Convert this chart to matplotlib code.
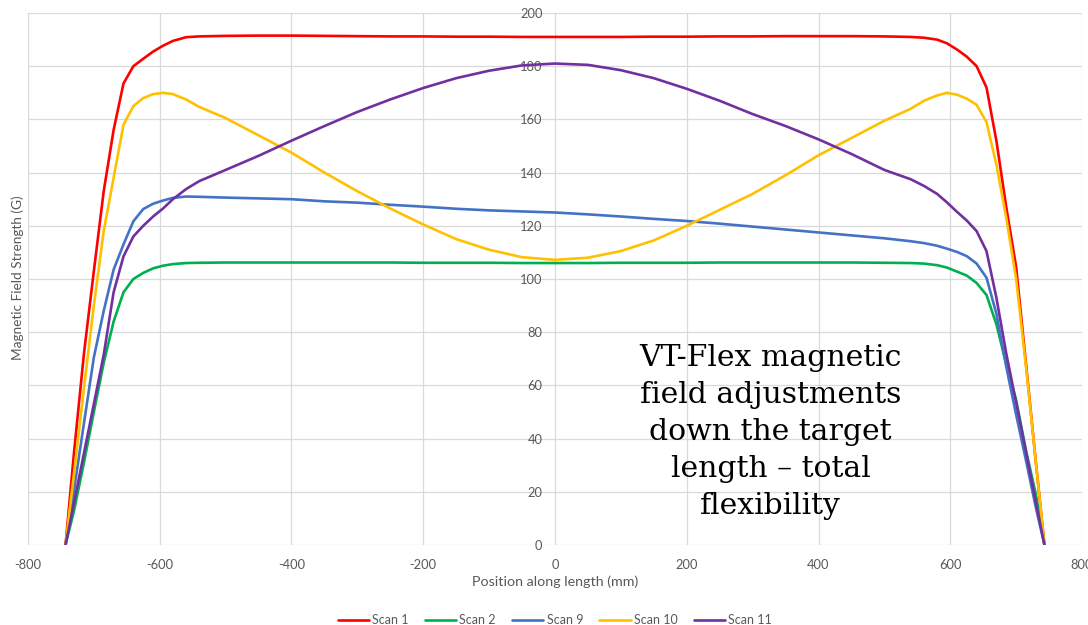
import matplotlib
matplotlib.use("Agg")
import matplotlib.pyplot as plt

plt.rcParams["axes.unicode_minus"] = False

# Position along the target (mm)
position = [-743, -730, -715, -700, -685, -670, -655, -640, -625, -610, -595, -580,
            -560, -540, -500, -450, -400, -350, -300, -250, -200, -150, -100, -50,
            0, 50, 100, 150, 200, 250, 300, 350, 400, 450, 500, 540, 560, 580,
            595, 610, 625, 640, 655, 670, 685, 700, 715, 730, 743]

# Magnetic field strength (G) for each scan
scan_1 = [0, 35, 72, 103, 133, 156, 173.5, 180, 182.8, 185.5, 187.7, 189.5,
          190.9, 191.2, 191.4, 191.5, 191.5, 191.4, 191.3, 191.2, 191.2, 191.1, 191.1, 191.0,
          191.0, 191.0, 191.0, 191.1, 191.1, 191.2, 191.2, 191.3, 191.3, 191.3, 191.2, 191.0, 190.7, 190.0,
          188.6, 186.3, 183.6, 180.0, 172.0, 152.0, 127.0, 104.5, 68, 31, 0]

scan_2 = [0, 13, 31, 50, 68.5, 84, 95, 100, 102.3, 104, 105, 105.6,
          106, 106.1, 106.2, 106.2, 106.2, 106.2, 106.2, 106.2, 106.1, 106.1, 106.1, 106.0,
          106.0, 106.0, 106.1, 106.1, 106.1, 106.2, 106.2, 106.2, 106.2, 106.2, 106.1, 106.0, 105.8, 105.2,
          104.3, 102.8, 101.3, 98.5, 94, 83, 68, 54.5, 35.5, 19, 0]

scan_9 = [0, 20.8, 45.8, 70.5, 88, 103.5, 113, 121.7, 126.3, 128.3, 129.5, 130.5,
          131, 130.9, 130.6, 130.3, 130.0, 129.2, 128.7, 127.9, 127.2, 126.4, 125.8, 125.4,
          125.0, 124.3, 123.5, 122.6, 121.8, 120.8, 119.7, 118.6, 117.5, 116.4, 115.3, 114.2, 113.5, 112.5,
          111.4, 110.2, 108.6, 105.8, 100.5, 87, 67, 49, 31.7, 14, 0]

scan_10 = [0, 27, 59, 90, 118, 138, 158, 165, 168, 169.5, 170, 169.5,
           167.5, 164.7, 160.5, 154, 147.5, 140, 133, 126.5, 120.5, 115, 111, 108.2,
           107.2, 108, 110.5, 114.5, 120, 126, 132, 139, 146.5, 153, 159.5, 164, 167, 169,
           170, 169.3, 167.8, 165.5, 159, 143, 123, 100, 67, 31, 0]

scan_11 = [0, 16, 34.5, 53, 71.5, 95, 108.5, 116, 120, 123.5, 126.5, 130,
           133.8, 136.8, 141, 146.3, 152, 157.5, 162.8, 167.5, 171.8, 175.5, 178.3, 180.3,
           181, 180.5, 178.5, 175.5, 171.5, 167, 162, 157.5, 152.5, 147, 141, 137.5, 135, 132,
           128.8, 125.3, 122, 118, 110.5, 93, 72, 53.5, 35, 16, 0]

series = [
    ("Scan 1", scan_1, "#FF0000"),
    ("Scan 2", scan_2, "#00B050"),
    ("Scan 9", scan_9, "#4472C4"),
    ("Scan 10", scan_10, "#FFC000"),
    ("Scan 11", scan_11, "#7030A0"),
]

x_ticks = [-800, -600, -400, -200, 0, 200, 400, 600, 800]
y_ticks = [0, 20, 40, 60, 80, 100, 120, 140, 160, 180, 200]

label_font = "Lato"
grey_text = "#595959"
grid_col = "#D9D9D9"

fig = plt.figure(figsize=(10.88, 6.25), dpi=100)
ax = fig.add_axes([0.0257, 0.128, 0.9688, 0.8512])

for name, vals, col in series:
    ax.plot(position, vals, color=col, lw=1.9, label=name, solid_joinstyle="round",
            solid_capstyle="round")

ax.set_xlim(-800, 800)
ax.set_ylim(0, 200)
ax.set_xticks(x_ticks)
ax.set_yticks(y_ticks)
ax.grid(True, color=grid_col, lw=0.9)
ax.set_axisbelow(True)

for s in ["top", "right", "bottom"]:
    ax.spines[s].set_visible(False)
ax.spines["left"].set_position(("data", 0))
ax.spines["left"].set_visible(False)

ax.tick_params(axis="both", length=0, colors=grey_text, labelsize=9.3)
ax.tick_params(axis="x", pad=10)
ax.tick_params(axis="y", pad=9)
for lab in ax.get_xticklabels() + ax.get_yticklabels():
    lab.set_fontfamily(label_font)

fig.text(0.0165, 0.555, "Magnetic Field Strength (G)", rotation=90, ha="center", va="center",
         fontsize=9.8, color=grey_text, family=label_font)
fig.text(0.5106, 0.07, "Position along length (mm)", ha="center", va="center",
         fontsize=10.3, color=grey_text, family=label_font)

leg = fig.legend(loc="center", bbox_to_anchor=(0.51, 0.008), ncol=5, frameon=False,
                 handlelength=2.5, handletextpad=0.25, columnspacing=1.3,
                 prop={"family": label_font, "size": 9})
for t in leg.get_texts():
    t.set_color(grey_text)

ax.text(327, 42.5, "VT-Flex magnetic\nfield adjustments\ndown the target\nlength \u2013 total\nflexibility",
        ha="center", va="center", multialignment="center", fontsize=21.5,
        family="DejaVu Serif", color="black", linespacing=1.4, zorder=5)

fig.savefig("out.png", dpi=100)
